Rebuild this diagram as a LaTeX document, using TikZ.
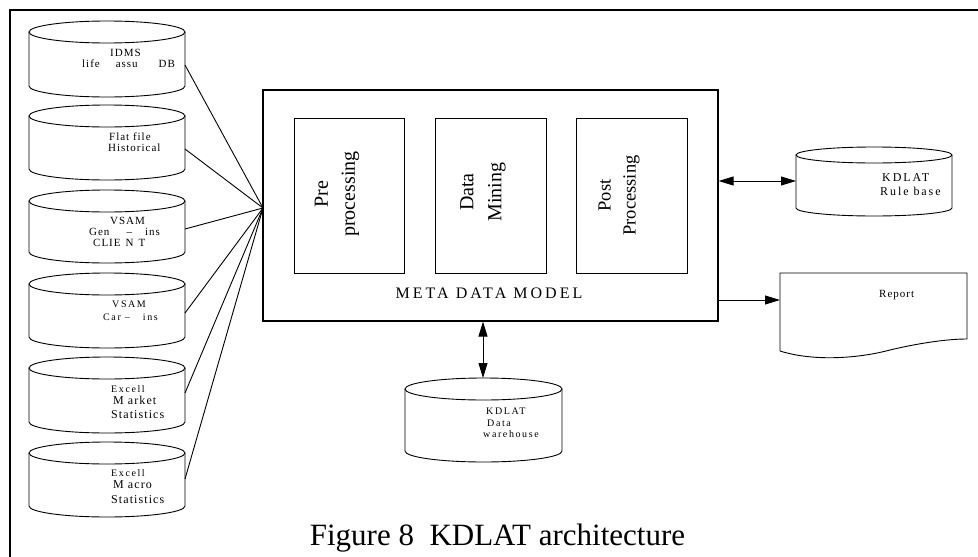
\documentclass[tikz,border=0pt]{standalone}
\usepackage{fontspec}
\setmainfont{Liberation Serif}
\newfontfamily\spc[LetterSpace=9]{Liberation Serif}
\newfontfamily\spcw[LetterSpace=16]{Liberation Serif}
\newfontfamily\spcm[LetterSpace=19]{Liberation Serif}
\usetikzlibrary{arrows.meta}
\newcommand\dbcyl[5]{%
  \pgfmathsetmacro\cx{(#1+#3)/2}\pgfmathsetmacro\rx{(#3-#1)/2}%
  \pgfmathsetmacro\ct{#2+#5}\pgfmathsetmacro\cb{#4-#5}%
  \draw[cylline] (\cx,-\ct) ellipse [x radius=\rx pt, y radius=#5pt];
  \draw[cylline] (#1,-\ct) -- (#1,-\cb) arc[start angle=180,end angle=360,x radius=\rx pt,y radius=#5pt] -- (#3,-\ct);
}
\begin{document}
\begin{tikzpicture}[x=1pt,y=1pt,
  cylline/.style={line width=0.9pt},
  link/.style={line width=0.9pt},
  boxline/.style={draw,line width=1.2pt},
  >={Triangle[length=15pt,width=9pt]},
  lbl/.style={anchor=base west,inner sep=0pt,font=\spc\fontsize{11}{13}\selectfont},
  lblb/.style={anchor=base west,inner sep=0pt,font=\spc\fontsize{12}{14}\selectfont},
  lbls/.style={anchor=base west,inner sep=0pt,font=\spcw\fontsize{10}{12}\selectfont},
  lblr/.style={anchor=base west,inner sep=0pt,font=\spcw\fontsize{12}{14}\selectfont},
  rot/.style={rotate=90,align=center,inner sep=0pt}
]
\useasboundingbox (0,0) rectangle (978,-557);
% outer frame (right and bottom edges lie outside the picture)
\draw[line width=2pt] (9.5,-570) -- (9.5,-9.5) -- (990,-9.5);

% main box
\node[boxline,minimum width=455pt,minimum height=231pt,inner sep=0pt] (meta) at (490.5,-205.5) {};
\node[draw,line width=1pt,minimum width=110pt,minimum height=155pt,inner sep=0pt] (pre) at (349,-195.5) {};
\node[draw,line width=1pt,minimum width=111pt,minimum height=155pt,inner sep=0pt] (dm) at (490.5,-195.5) {};
\node[draw,line width=1pt,minimum width=111pt,minimum height=155pt,inner sep=0pt] (post) at (631.5,-195.5) {};
\node[rot,font=\fontsize{20}{27}\selectfont] (tpre) at (337,-194) {Pre\\processing};
\node[rot,font=\fontsize{20}{28}\selectfont] (tdm) at (483,-192) {Data\\Mining};
\node[rot,font=\fontsize{18.5}{25}\selectfont] (tpost) at (619,-195.5) {Post\\Processing};
\node[inner sep=0pt,anchor=base,font=\spcm\fontsize{16}{18}\selectfont] (mdm) at (489,-298.5) {META DATA MODEL};

% left cylinders
\dbcyl{29}{21}{185}{97}{11}
\dbcyl{29}{105}{185}{180}{11}
\dbcyl{29}{190}{185}{263}{11}
\dbcyl{29}{273}{185}{348}{11}
\dbcyl{29}{357}{185}{433}{11}
\dbcyl{29}{442}{185}{517}{11}

\node[lbl] (t1a) at (110,-56) {IDMS};
\node[lbl] (t1b) at (82,-67) {life\hspace{16pt}assu\hspace{21pt}DB};
\node[lbl] (t2a) at (109,-140) {Flat file};
\node[lbl] (t2b) at (108,-151) {Historical};
\node[lbl] (t3a) at (110,-224) {VSAM};
\node[lbl] (t3b) at (89,-235) {Gen\hspace{17pt}–\hspace{13pt}ins};
\node[lbl] (t3c) at (93,-246) {CLIE\hspace{5pt}N\hspace{5pt}T};
\node[lbls] (t4a) at (112,-307) {VSAM};
\node[lbls] (t4b) at (103,-320) {Car –\hspace{13pt}ins};
\node[lbls] (t5a) at (111,-392) {Excell};
\node[lblb] (t5b) at (113,-404) {M arket};
\node[lblb] (t5c) at (111,-418) {Statistics};
\node[lbls] (t6a) at (111,-476) {Excell};
\node[lblb] (t6b) at (113,-488) {M acro};
\node[lblb] (t6c) at (111,-503) {Statistics};

% connection points
\coordinate (hub) at (263,-208);
\coordinate (c1) at (185,-65);
\coordinate (c2) at (185,-149);
\coordinate (c3) at (185,-229);
\coordinate (c4) at (185,-313);
\coordinate (c5) at (185,-393);
\coordinate (c6) at (185,-479);
\foreach \c in {c1,c2,c3,c4,c5,c6} \draw[link] (\c) -- (hub);

% rule base
\dbcyl{796}{147}{952}{216}{8}
\coordinate (rb) at (796,-181);
\node[lblr] (trb1) at (882,-181) {KDLAT};
\node[lblr] (trb2) at (880,-195) {Rule base};
\draw[link,<->] (meta.east |- rb) -- (rb);

% report
\draw[cylline] (780,-351) -- (780,-273) -- (967,-273) -- (967,-339)
  .. controls (945,-339) and (915,-344) .. (890,-350)
  .. controls (860,-358) and (815,-362) .. (780,-351);
\coordinate (rep) at (780,-300);
\node[lbl] (trep) at (879,-297) {Report};
\draw[link,->] (meta.east |- rep) -- (rep);

% data warehouse
\dbcyl{405}{378}{562}{462}{11}
\coordinate (dw) at (483,-378);
\node[lbls] (tdw1) at (486,-414) {KDLAT};
\node[lbls] (tdw2) at (487,-426) {Data};
\node[lbls] (tdw3) at (483,-437) {warehouse};
\draw[link,<->] (meta.south -| dw) -- (dw);

% caption
\node[inner sep=0pt,anchor=base,font=\fontsize{31}{34}\selectfont] (cap) at (497.5,-545) {Figure 8\hspace{0.5em}KDLAT architecture};
\end{tikzpicture}
\end{document}
